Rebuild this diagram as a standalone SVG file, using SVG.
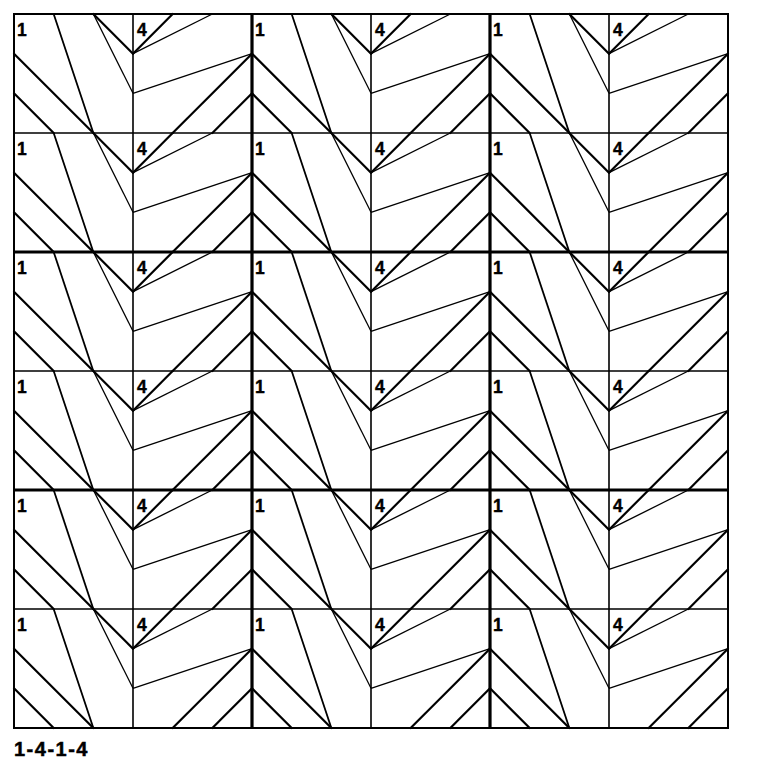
<svg xmlns="http://www.w3.org/2000/svg" xmlns:xlink="http://www.w3.org/1999/xlink" width="768" height="768" viewBox="0 0 768 768">
<style>
.k{stroke:#000;stroke-width:2.2;fill:none;stroke-linecap:round}
.m{stroke:#000;stroke-width:1.8;fill:none}
.t{stroke:#000;stroke-width:1.3;fill:none}
.g{stroke:#000;stroke-width:1.6;fill:none}
.b{stroke:#000;stroke-width:3.2;fill:none}
.o{stroke:#000;stroke-width:2;fill:none}
</style>
<defs>
<g id="c1">
<line class="k" x1="0" y1="39.67" x2="79.33" y2="119"/>
<line class="k" x1="0" y1="79.33" x2="39.67" y2="119"/>
<line class="k" x1="79.33" y1="0" x2="119" y2="39.67"/>
<line class="m" x1="39.67" y1="0" x2="79.33" y2="119"/>
<line class="t" x1="79.33" y1="0" x2="119" y2="79.33"/>
</g>
<g id="c4">
<line class="k" x1="0" y1="39.67" x2="39.67" y2="0"/>
<line class="k" x1="119" y1="39.67" x2="39.67" y2="119"/>
<line class="k" x1="119" y1="79.33" x2="79.33" y2="119"/>
<line class="t" x1="0" y1="39.67" x2="79.33" y2="0"/>
<line class="t" x1="0" y1="79.33" x2="119" y2="39.67"/>
</g>
</defs>
<rect x="0" y="0" width="768" height="768" fill="#fff"/>
<g id="cells" font-family="Liberation Sans, Arial, sans-serif" font-weight="bold" font-size="17.5" fill="#000" stroke="#000" stroke-width="0.4">
<g id="r1c1"><use xlink:href="#c1" x="14" y="14"/><text x="17" y="36">1</text></g>
<g id="r1c2"><use xlink:href="#c4" x="133" y="14"/><text x="137" y="36">4</text></g>
<g id="r1c3"><use xlink:href="#c1" x="252" y="14"/><text x="255" y="36">1</text></g>
<g id="r1c4"><use xlink:href="#c4" x="371" y="14"/><text x="375" y="36">4</text></g>
<g id="r1c5"><use xlink:href="#c1" x="490" y="14"/><text x="493" y="36">1</text></g>
<g id="r1c6"><use xlink:href="#c4" x="609" y="14"/><text x="613" y="36">4</text></g>
<g id="r2c1"><use xlink:href="#c1" x="14" y="133"/><text x="17" y="155">1</text></g>
<g id="r2c2"><use xlink:href="#c4" x="133" y="133"/><text x="137" y="155">4</text></g>
<g id="r2c3"><use xlink:href="#c1" x="252" y="133"/><text x="255" y="155">1</text></g>
<g id="r2c4"><use xlink:href="#c4" x="371" y="133"/><text x="375" y="155">4</text></g>
<g id="r2c5"><use xlink:href="#c1" x="490" y="133"/><text x="493" y="155">1</text></g>
<g id="r2c6"><use xlink:href="#c4" x="609" y="133"/><text x="613" y="155">4</text></g>
<g id="r3c1"><use xlink:href="#c1" x="14" y="252"/><text x="17" y="274">1</text></g>
<g id="r3c2"><use xlink:href="#c4" x="133" y="252"/><text x="137" y="274">4</text></g>
<g id="r3c3"><use xlink:href="#c1" x="252" y="252"/><text x="255" y="274">1</text></g>
<g id="r3c4"><use xlink:href="#c4" x="371" y="252"/><text x="375" y="274">4</text></g>
<g id="r3c5"><use xlink:href="#c1" x="490" y="252"/><text x="493" y="274">1</text></g>
<g id="r3c6"><use xlink:href="#c4" x="609" y="252"/><text x="613" y="274">4</text></g>
<g id="r4c1"><use xlink:href="#c1" x="14" y="371"/><text x="17" y="393">1</text></g>
<g id="r4c2"><use xlink:href="#c4" x="133" y="371"/><text x="137" y="393">4</text></g>
<g id="r4c3"><use xlink:href="#c1" x="252" y="371"/><text x="255" y="393">1</text></g>
<g id="r4c4"><use xlink:href="#c4" x="371" y="371"/><text x="375" y="393">4</text></g>
<g id="r4c5"><use xlink:href="#c1" x="490" y="371"/><text x="493" y="393">1</text></g>
<g id="r4c6"><use xlink:href="#c4" x="609" y="371"/><text x="613" y="393">4</text></g>
<g id="r5c1"><use xlink:href="#c1" x="14" y="490"/><text x="17" y="512">1</text></g>
<g id="r5c2"><use xlink:href="#c4" x="133" y="490"/><text x="137" y="512">4</text></g>
<g id="r5c3"><use xlink:href="#c1" x="252" y="490"/><text x="255" y="512">1</text></g>
<g id="r5c4"><use xlink:href="#c4" x="371" y="490"/><text x="375" y="512">4</text></g>
<g id="r5c5"><use xlink:href="#c1" x="490" y="490"/><text x="493" y="512">1</text></g>
<g id="r5c6"><use xlink:href="#c4" x="609" y="490"/><text x="613" y="512">4</text></g>
<g id="r6c1"><use xlink:href="#c1" x="14" y="609"/><text x="17" y="631">1</text></g>
<g id="r6c2"><use xlink:href="#c4" x="133" y="609"/><text x="137" y="631">4</text></g>
<g id="r6c3"><use xlink:href="#c1" x="252" y="609"/><text x="255" y="631">1</text></g>
<g id="r6c4"><use xlink:href="#c4" x="371" y="609"/><text x="375" y="631">4</text></g>
<g id="r6c5"><use xlink:href="#c1" x="490" y="609"/><text x="493" y="631">1</text></g>
<g id="r6c6"><use xlink:href="#c4" x="609" y="609"/><text x="613" y="631">4</text></g>
</g>
<g id="grid">
<path class="g" d="M133 14V728M371 14V728M609 14V728M14 133H728M14 371H728M14 609H728"/>
<path class="b" d="M252 14V728M490 14V728M14 252H728M14 490H728"/>
<rect class="o" x="14" y="14" width="714" height="714"/>
</g>
<text id="caption" x="14" y="756" font-family="Liberation Sans, Arial, sans-serif" font-weight="bold" font-size="20" letter-spacing="1.5" fill="#000" stroke="#000" stroke-width="0.5">1-4-1-4</text>
</svg>
